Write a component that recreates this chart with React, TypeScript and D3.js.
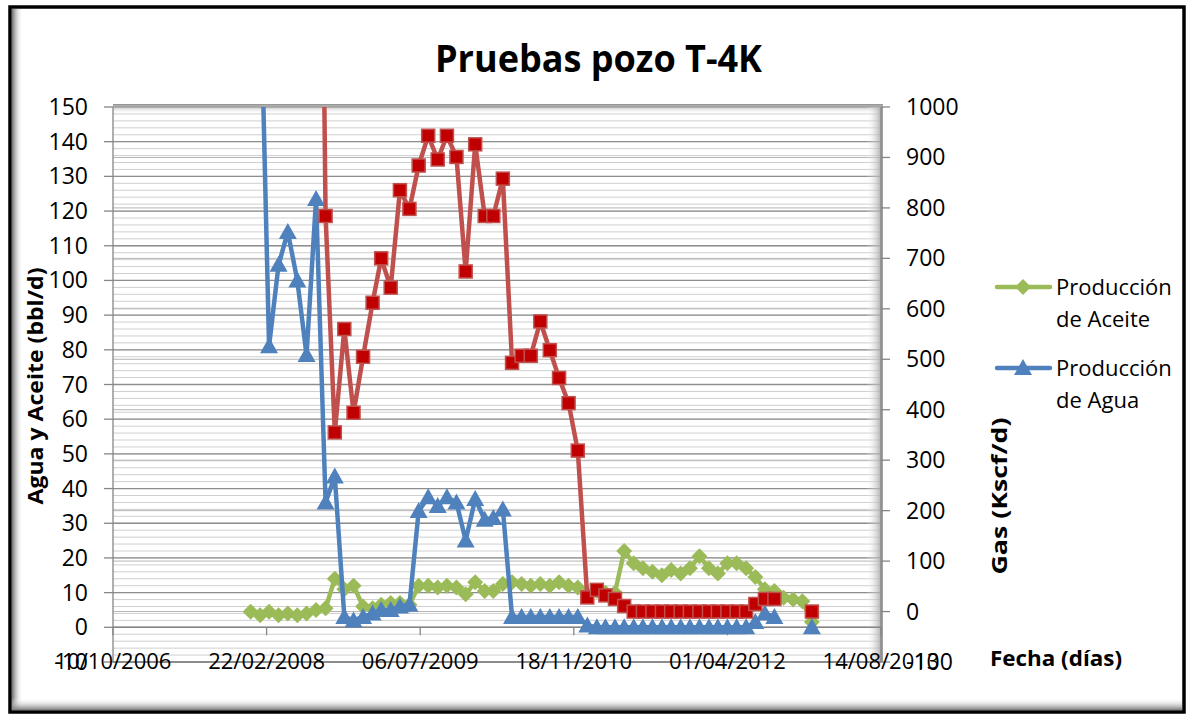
import React from "react";
import * as d3 from "d3";

// ---------- DATA ----------
const months = [
  "2008-01","2008-02","2008-03","2008-04","2008-05","2008-06","2008-07","2008-08","2008-09","2008-10","2008-11","2008-12",
  "2009-01","2009-02","2009-03","2009-04","2009-05","2009-06","2009-07","2009-08","2009-09","2009-10","2009-11","2009-12",
  "2010-01","2010-02","2010-03","2010-04","2010-05","2010-06","2010-07","2010-08","2010-09","2010-10","2010-11","2010-12",
  "2011-01","2011-02","2011-03","2011-04","2011-05","2011-06","2011-07","2011-08","2011-09","2011-10","2011-11","2011-12",
  "2012-01","2012-02","2012-03","2012-04","2012-05","2012-06","2012-07","2012-08","2012-09","2012-10","2012-11","2012-12",
  "2013-01",
];

// Producción de Aceite (bbl/d), left axis
const aceite: (number | null)[] = [
  4.5, 3.5, 4.5, 3.5, 4, 3.5, 4, 5, 5.5, 14, 11, 12,
  6, 5.5, 6.5, 7, 7, 6.5, 12, 12, 11.5, 12, 11.5, 9.5,
  13, 10.5, 10.5, 12.5, 13, 12.5, 12, 12.5, 12, 13, 12, 11.5,
  9.5, 10.5, 10, 10, 22, 18.5, 17, 16, 15, 16.5, 15.5, 17,
  20.5, 17, 15.5, 18.5, 18.5, 17, 14.5, 11, 10.5, 8.5, 8, 7.5,
  1.5,
];

// Producción de Agua (bbl/d), left axis
const agua: (number | null)[] = [
  null, 190, 81, 104.5, 114, 100, 78.5, 123.5, 36, 43.5, 3, 2,
  3, 4, 5, 5, 6, 6.5, 33.5, 37.5, 35, 37.5, 36, 25,
  37, 31, 31.5, 34, 3, 3, 3, 3, 3, 3, 3, 3,
  0.5, 0, 0, 0, 0, 0, 0, 0, 0, 0, 0, 0,
  0, 0, 0, 0, 0, 0, 1.5, 4, 3, null, null, null,
  0,
];

// Gas (Kscf/d), right axis
const gas: (number | null)[] = [
  null, null, null, null, null, null, null, 2500, 784, 355, 560, 394,
  505, 612, 700, 642, 835, 798, 884, 943, 896, 943, 901, 674,
  926, 784, 784, 858, 493, 507, 507, 575, 518, 463, 413, 319,
  28, 43, 32, 25, 11, 0, 0, 0, 0, 0, 0, 0,
  0, 0, 0, 0, 0, 0, 15, 25, 25, null, null, null,
  0,
];

const dateTicks = ["10/10/2006", "22/02/2008", "06/07/2009", "18/11/2010", "01/04/2012", "14/08/2013"];
const leftTicks = [-10, 0, 10, 20, 30, 40, 50, 60, 70, 80, 90, 100, 110, 120, 130, 140, 150];
const rightTicks = [-100, 0, 100, 200, 300, 400, 500, 600, 700, 800, 900, 1000];

const title = "Pruebas pozo T-4K";
const leftTitle = "Agua y Aceite (bbl/d)";
const rightTitle = "Gas (Kscf/d)";
const xTitle = "Fecha (días)";

// ---------- STYLE ----------
const FONT = "'Open Sans', 'Liberation Sans', sans-serif";
const GREEN = "#9bbb59";
const BLUE = "#4f81bd";
const RED = "#c0504d";
const RED_FILL = "#c00000";

const PL = 113, PR = 881, PT = 107, PB = 662;

export default function App() {
  const parseM = d3.timeParse("%Y-%m");
  const parseD = d3.timeParse("%d/%m/%Y");
  const dates = months.map((m) => parseM(m) as Date);
  const tDates = dateTicks.map((d) => parseD(d) as Date);

  const x = d3.scaleTime().domain([tDates[0], tDates[tDates.length - 1]]).range([PL, PR]);
  const yL = d3.scaleLinear().domain([leftTicks[0], leftTicks[leftTicks.length - 1]]).range([PB, PT]);
  const yR = d3.scaleLinear().domain([rightTicks[0], rightTicks[rightTicks.length - 1]]).range([PB, PT]);

  type P = { d: Date; v: number | null };
  const mk = (arr: (number | null)[]): P[] => arr.map((v, i) => ({ d: dates[i], v }));
  const sAceite = mk(aceite), sAgua = mk(agua), sGas = mk(gas);

  const lineL = d3.line<P>().defined((p) => p.v != null).x((p) => x(p.d)).y((p) => yL(p.v as number));
  const lineR = d3.line<P>().defined((p) => p.v != null).x((p) => x(p.d)).y((p) => yR(p.v as number));

  const minorL = d3.range(leftTicks[0], leftTicks[leftTicks.length - 1] + 0.01, 2);

  const diamond = (cx: number, cy: number, r = 8) => `M${cx},${cy - r}L${cx + r},${cy}L${cx},${cy + r}L${cx - r},${cy}Z`;
  const tri = (cx: number, cy: number) => `M${cx},${cy - 9}L${cx + 9},${cy + 7}L${cx - 9},${cy + 7}Z`;

  return (
    <svg width={1190} height={717} style={{ position: "absolute", left: 0, top: 0, background: "#fff" }} fontFamily={FONT}>
      <defs>
        <clipPath id="plotclip">
          <rect x={PL} y={PT} width={PR - PL} height={PB - PT} />
        </clipPath>
        <linearGradient id="topband" x1="0" y1="0" x2="0" y2="1">
          <stop offset="0" stopColor="#8c8c8c" />
          <stop offset="1" stopColor="#ffffff" stopOpacity="0" />
        </linearGradient>
        <linearGradient id="rightband" x1="0" y1="0" x2="1" y2="0">
          <stop offset="0" stopColor="#ffffff" stopOpacity="0" />
          <stop offset="1" stopColor="#9a9a9a" />
        </linearGradient>
        <linearGradient id="leftshadow" x1="0" y1="0" x2="1" y2="0">
          <stop offset="0" stopColor="#6e6e6e" />
          <stop offset="1" stopColor="#ffffff" stopOpacity="0" />
        </linearGradient>
        <linearGradient id="bottomshadow" x1="0" y1="0" x2="0" y2="1">
          <stop offset="0" stopColor="#ffffff" stopOpacity="0" />
          <stop offset="1" stopColor="#7a7a7a" />
        </linearGradient>
      </defs>

      {/* outer frame */}
      <rect x={0} y={0} width={1190} height={717} fill="#fff" />
      <rect x={12} y={9} width={11} height={701} fill="url(#leftshadow)" />
      <rect x={12} y={698} width={1170} height={12} fill="url(#bottomshadow)" />
      <rect x={10} y={7} width={1174} height={705} fill="none" stroke="#000" strokeWidth={3.5} />

      {/* title */}
      <text x={435} y={72} fontSize={38} fontWeight="bold" textLength={327} lengthAdjust="spacingAndGlyphs">{title}</text>

      {/* plot area gridlines */}
      <g>
        {minorL.map((v) => (
          <line key={"mn" + v} x1={PL} x2={PR} y1={yL(v)} y2={yL(v)} stroke="#cfcfcf" strokeWidth={1} />
        ))}
        {rightTicks.map((v) => (
          <line key={"rg" + v} x1={PL} x2={PR} y1={yR(v)} y2={yR(v)} stroke="#b4b4b4" strokeWidth={1} />
        ))}
        {leftTicks.map((v) => (
          <line key={"mj" + v} x1={PL} x2={PR} y1={yL(v)} y2={yL(v)} stroke="#8e8e8e" strokeWidth={1.3} />
        ))}
      </g>
      <rect x={PL} y={PT - 3} width={PR - PL + 2} height={10} fill="url(#topband)" />
      <rect x={PR - 15} y={PT} width={17} height={PB - PT} fill="url(#rightband)" />

      {/* plot borders & axes */}
      <line x1={PL} x2={PL} y1={PT} y2={PB} stroke="#868686" strokeWidth={1.3} />
      <line x1={PL} x2={PR} y1={PB} y2={PB} stroke="#868686" strokeWidth={1.3} />
      <line x1={PR} x2={PR} y1={PT} y2={PB} stroke="#868686" strokeWidth={1.3} />
      <line x1={PL} x2={PR} y1={yL(0)} y2={yL(0)} stroke="#868686" strokeWidth={1.5} />
      {tDates.map((d, i) => (
        <line key={"xt" + i} x1={x(d)} x2={x(d)} y1={yL(0)} y2={yL(0) + 8} stroke="#868686" strokeWidth={1.3} />
      ))}
      {leftTicks.map((v) => (
        <line key={"lt" + v} x1={PL - 9} x2={PL} y1={yL(v)} y2={yL(v)} stroke="#868686" strokeWidth={1.3} />
      ))}
      {rightTicks.map((v) => (
        <line key={"rt" + v} x1={PR} x2={PR + 9} y1={yR(v)} y2={yR(v)} stroke="#868686" strokeWidth={1.3} />
      ))}

      {/* series */}
      <g clipPath="url(#plotclip)">
        <path d={lineL(sAceite) || ""} fill="none" stroke={GREEN} strokeWidth={4.5} strokeLinejoin="round" />
        {sAceite.filter((p) => p.v != null).map((p, i) => (
          <path key={"ga" + i} d={diamond(x(p.d), yL(p.v as number))} fill={GREEN} />
        ))}
        <path d={lineL(sAgua) || ""} fill="none" stroke={BLUE} strokeWidth={4.5} strokeLinejoin="round" />
        {sAgua.filter((p) => p.v != null).map((p, i) => (
          <path key={"ba" + i} d={tri(x(p.d), yL(p.v as number))} fill={BLUE} />
        ))}
        <path d={lineR(sGas) || ""} fill="none" stroke={RED} strokeWidth={4.5} strokeLinejoin="round" />
        {sGas.filter((p) => p.v != null).map((p, i) => (
          <rect key={"rg" + i} x={x(p.d) - 6.5} y={yR(p.v as number) - 6.5} width={13} height={13} fill={RED_FILL} stroke={RED} strokeWidth={1.5} />
        ))}
      </g>

      {/* left tick labels */}
      {leftTicks.map((v) => (
        <text key={"ll" + v} x={88} y={yL(v) + 8} fontSize={23} textAnchor="end" fill="#000">{v}</text>
      ))}
      {/* right tick labels */}
      {rightTicks.map((v) => (
        <text key={"rl" + v} x={906} y={yR(v) + 8} fontSize={23} textAnchor="start" fill="#000">{v}</text>
      ))}
      {/* date labels */}
      {tDates.map((d, i) => (
        <text key={"dl" + i} x={x(d)} y={669} fontSize={22} textAnchor="middle" fill="#000">{dateTicks[i]}</text>
      ))}

      {/* axis titles */}
      <text transform="translate(43,386) rotate(-90)" fontSize={21} fontWeight="bold" textAnchor="middle" textLength={237} lengthAdjust="spacingAndGlyphs">{leftTitle}</text>
      <text transform="translate(1007,496) rotate(-90)" fontSize={21} fontWeight="bold" textAnchor="middle" textLength={157} lengthAdjust="spacingAndGlyphs">{rightTitle}</text>
      <text x={990} y={666} fontSize={21} fontWeight="bold" textLength={132} lengthAdjust="spacingAndGlyphs">{xTitle}</text>

      {/* legend */}
      <g>
        <line x1={997} x2={1050} y1={287} y2={287} stroke={GREEN} strokeWidth={4.5} strokeLinecap="round" />
        <path d={diamond(1023, 287)} fill={GREEN} />
        <text x={1056} y={295} fontSize={22}>Producción</text>
        <text x={1056} y={327} fontSize={22}>de Aceite</text>
        <line x1={997} x2={1050} y1={368} y2={368} stroke={BLUE} strokeWidth={4.5} strokeLinecap="round" />
        <path d={tri(1023, 368)} fill={BLUE} />
        <text x={1056} y={376} fontSize={22}>Producción</text>
        <text x={1056} y={408} fontSize={22}>de Agua</text>
      </g>
    </svg>
  );
}
